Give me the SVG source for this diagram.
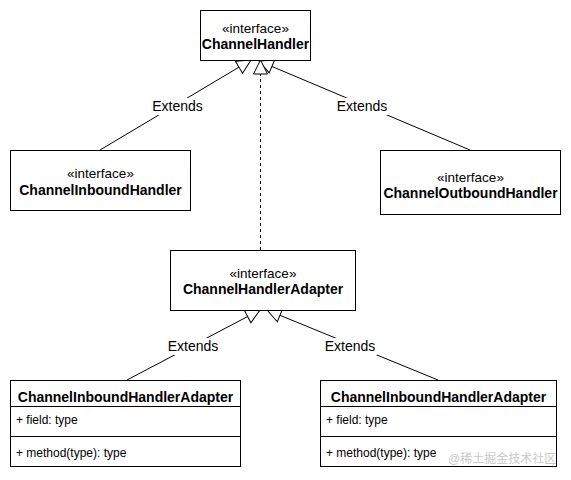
<svg xmlns="http://www.w3.org/2000/svg" width="571" height="480" viewBox="0 0 571 480">
<defs>
<style>
.box{fill:#fff;stroke:#000;stroke-width:1}
.t{font-family:"Liberation Sans",Arial,sans-serif;font-size:14px;fill:#000;text-anchor:middle}
.i{font-size:13.5px}
.b{font-weight:bold}
.m{font-family:"Liberation Sans",Arial,sans-serif;font-size:12px;fill:#000}
.edge{fill:none;stroke:#000;stroke-width:1}
.lbl{fill:#fff}
</style>
<marker id="tri" markerUnits="userSpaceOnUse" markerWidth="16" markerHeight="16" refX="15" refY="7.5" orient="auto" viewBox="0 0 16 15">
<path d="M1,0.5 L15,7.5 L1,14.5 Z" fill="#fff" stroke="#000" stroke-width="1"/>
</marker>
</defs>
<g id="connectors">
<path class="edge" d="M100,150 L251,60" marker-end="url(#tri)"/>
<path class="edge" d="M470,150 L259,61" marker-end="url(#tri)"/>
<path class="edge" d="M260.5,250 L260.5,60" stroke-dasharray="3,3" marker-end="url(#tri)"/>
<path class="edge" d="M127,380 L260,310" marker-end="url(#tri)"/>
<path class="edge" d="M438,380 L267,310" marker-end="url(#tri)"/>
<rect class="lbl" x="151" y="98" width="53" height="17"/>
<text class="t" x="177.5" y="111">Extends</text>
<rect class="lbl" x="335" y="98" width="54" height="17"/>
<text class="t" x="362" y="111">Extends</text>
<rect class="lbl" x="166" y="338" width="54" height="17"/>
<text class="t" x="193" y="351">Extends</text>
<rect class="lbl" x="323" y="338" width="54" height="17"/>
<text class="t" x="350" y="351">Extends</text>
</g>
<g id="ChannelHandler">
<rect class="box" x="200.5" y="10.5" width="110" height="50"/>
<text class="t i" x="255.5" y="33">«interface»</text>
<text class="t b" x="255.5" y="49">ChannelHandler</text>
</g>
<g id="ChannelInboundHandler">
<rect class="box" x="10.5" y="150.5" width="180" height="60"/>
<text class="t i" x="100.5" y="178">«interface»</text>
<text class="t b" x="100.5" y="195">ChannelInboundHandler</text>
</g>
<g id="ChannelOutboundHandler">
<rect class="box" x="380.5" y="150.5" width="180" height="64"/>
<text class="t i" x="470.5" y="182">«interface»</text>
<text class="t b" x="470.5" y="198">ChannelOutboundHandler</text>
</g>
<g id="ChannelHandlerAdapter">
<rect class="box" x="170.5" y="250.5" width="185" height="60"/>
<text class="t i" x="263" y="278">«interface»</text>
<text class="t b" x="263" y="294">ChannelHandlerAdapter</text>
</g>
<g id="ChannelInboundHandlerAdapter1">
<rect class="box" x="10.5" y="380.5" width="230" height="86"/>
<line class="edge" x1="10.5" y1="406.5" x2="240.5" y2="406.5"/>
<line class="edge" x1="10.5" y1="436.5" x2="240.5" y2="436.5"/>
<text class="t b" x="125.5" y="402">ChannelInboundHandlerAdapter</text>
<text class="m" x="16" y="424">+ field: type</text>
<text class="m" x="16" y="457">+ method(type): type</text>
</g>
<g id="ChannelInboundHandlerAdapter2">
<rect class="box" x="320.5" y="380.5" width="236" height="86"/>
<line class="edge" x1="320.5" y1="406.5" x2="556.5" y2="406.5"/>
<line class="edge" x1="320.5" y1="436.5" x2="556.5" y2="436.5"/>
<text class="t b" x="438.5" y="402">ChannelInboundHandlerAdapter</text>
<text class="m" x="326" y="424">+ field: type</text>
<text class="m" x="326" y="457">+ method(type): type</text>
</g>
<text x="448" y="463" font-family="'Liberation Sans','Noto Sans CJK SC',sans-serif" font-size="12" fill="#c8c8c8">@稀土掘金技术社区</text>
</svg>
